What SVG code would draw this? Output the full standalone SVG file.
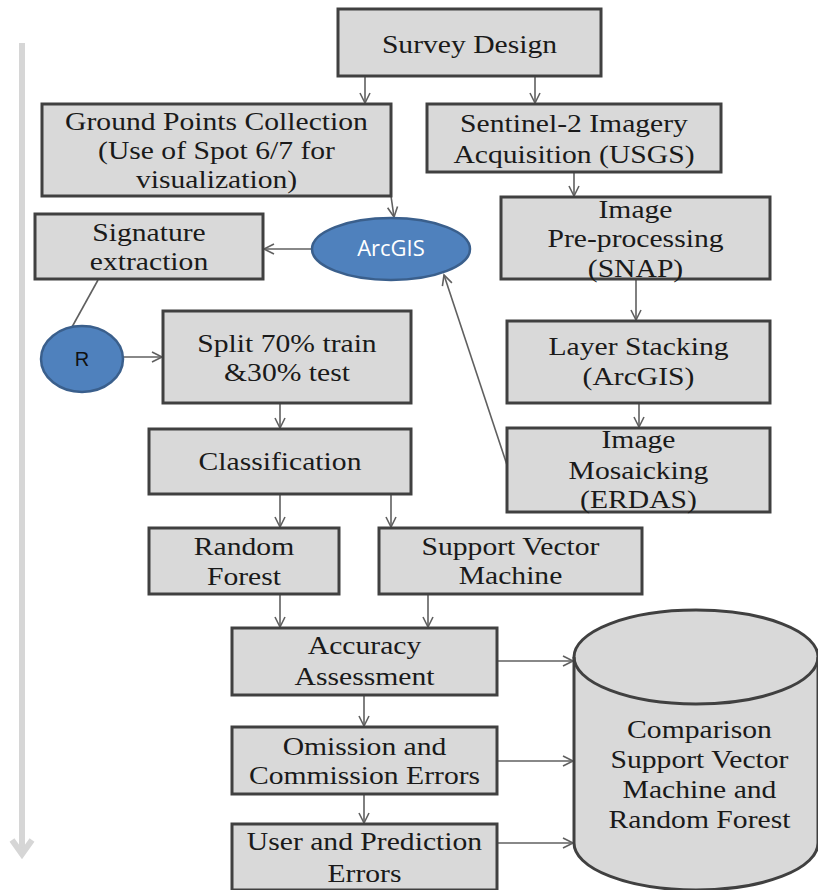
<svg xmlns="http://www.w3.org/2000/svg" width="818" height="890" viewBox="0 0 818 890">
<style>
.box{fill:#d9d9d9;stroke:#404040;stroke-width:3}
.t{font-family:"Liberation Serif","Times New Roman",serif;font-size:26px;fill:#1a1a1a;text-anchor:middle}
.c{fill:none;stroke:#606060;stroke-width:1.6}
.blue{fill:#4f81bd;stroke:#3a5f8c;stroke-width:2.5}
</style>
<defs>
<marker id="ah" markerWidth="14" markerHeight="14" refX="11" refY="6" orient="auto" markerUnits="userSpaceOnUse">
<path d="M1,1 L11,6 L1,11" fill="none" stroke="#606060" stroke-width="1.6"/>
</marker>
</defs>
<rect width="818" height="890" fill="#ffffff"/>
<g id="timeline">
<line x1="22" y1="43" x2="22" y2="854" stroke="#d6d6d6" stroke-width="6"/>
<polyline points="12,840 22,854 32,840" fill="none" stroke="#d6d6d6" stroke-width="6"/>
</g>
<g id="connectors">
<line class="c" x1="365" y1="76" x2="365" y2="103" marker-end="url(#ah)"/>
<line class="c" x1="535" y1="76" x2="535" y2="103" marker-end="url(#ah)"/>
<line class="c" x1="574" y1="172" x2="574" y2="196" marker-end="url(#ah)"/>
<line class="c" x1="636" y1="279" x2="636" y2="320" marker-end="url(#ah)"/>
<line class="c" x1="639" y1="403" x2="639" y2="427" marker-end="url(#ah)"/>
<line class="c" x1="391" y1="196" x2="394" y2="217" marker-end="url(#ah)"/>
<line class="c" x1="312" y1="249" x2="264" y2="249" marker-end="url(#ah)"/>
<line class="c" x1="98" y1="280" x2="72" y2="327"/>
<line class="c" x1="507" y1="465" x2="444" y2="275" marker-end="url(#ah)"/>
<line class="c" x1="123" y1="357" x2="162" y2="357" marker-end="url(#ah)"/>
<line class="c" x1="280" y1="403" x2="280" y2="428" marker-end="url(#ah)"/>
<line class="c" x1="280" y1="494" x2="280" y2="527" marker-end="url(#ah)"/>
<line class="c" x1="391" y1="494" x2="391" y2="527" marker-end="url(#ah)"/>
<line class="c" x1="280" y1="594" x2="280" y2="627" marker-end="url(#ah)"/>
<line class="c" x1="428" y1="594" x2="428" y2="627" marker-end="url(#ah)"/>
<line class="c" x1="364" y1="695" x2="364" y2="726" marker-end="url(#ah)"/>
<line class="c" x1="364" y1="794" x2="364" y2="823" marker-end="url(#ah)"/>
<line class="c" x1="497" y1="661" x2="573" y2="661" marker-end="url(#ah)"/>
<line class="c" x1="497" y1="761" x2="573" y2="761" marker-end="url(#ah)"/>
<line class="c" x1="497" y1="843" x2="573" y2="843" marker-end="url(#ah)"/>
</g>
<g id="survey-design">
<rect class="box" x="338" y="9" width="263" height="67"/>
<text class="t" transform="translate(469.5,53) scale(1.14,1)">Survey Design</text>
</g>
<g id="ground-points">
<rect class="box" x="42" y="104" width="349" height="92"/>
<text class="t" transform="translate(216.5,130) scale(1.14,1)"><tspan x="0" y="0">Ground Points Collection</tspan><tspan x="0" y="29.5">(Use of Spot 6/7 for</tspan><tspan x="0" y="58.5">visualization)</tspan></text>
</g>
<g id="sentinel">
<rect class="box" x="427" y="104" width="294" height="68"/>
<text class="t" transform="translate(574,132) scale(1.14,1)"><tspan x="0" y="0">Sentinel-2 Imagery</tspan><tspan x="0" y="31">Acquisition (USGS)</tspan></text>
</g>
<g id="preprocessing">
<rect class="box" x="501" y="197" width="269" height="82"/>
<text class="t" transform="translate(635.5,218) scale(1.14,1)"><tspan x="0" y="0">Image</tspan><tspan x="0" y="29.5">Pre-processing</tspan><tspan x="0" y="59">(SNAP)</tspan></text>
</g>
<g id="signature">
<rect class="box" x="35" y="214" width="228" height="65"/>
<text class="t" transform="translate(149,241) scale(1.14,1)"><tspan x="0" y="0">Signature</tspan><tspan x="0" y="29">extraction</tspan></text>
</g>
<g id="arcgis">
<ellipse class="blue" cx="391" cy="249" rx="79" ry="31"/>
<text x="391" y="256" font-family="'Open Sans','Liberation Sans',sans-serif" font-size="22" fill="#ffffff" text-anchor="middle">ArcGIS</text>
</g>
<g id="r">
<ellipse class="blue" cx="82" cy="359" rx="41" ry="33"/>
<text x="82" y="366" font-family="'Liberation Sans',Arial,sans-serif" font-size="20" fill="#111111" text-anchor="middle">R</text>
</g>
<g id="split">
<rect class="box" x="163" y="311" width="248" height="92"/>
<text class="t" transform="translate(287,352) scale(1.14,1)"><tspan x="0" y="0">Split 70% train</tspan><tspan x="0" y="29">&amp;30% test</tspan></text>
</g>
<g id="layer-stacking">
<rect class="box" x="507" y="321" width="263" height="82"/>
<text class="t" transform="translate(638.5,355) scale(1.14,1)"><tspan x="0" y="0">Layer Stacking</tspan><tspan x="0" y="30">(ArcGIS)</tspan></text>
</g>
<g id="classification">
<rect class="box" x="149" y="429" width="262" height="65"/>
<text class="t" transform="translate(280,470) scale(1.14,1)">Classification</text>
</g>
<g id="mosaicking">
<rect class="box" x="507" y="428" width="263" height="84"/>
<text class="t" transform="translate(638.5,448) scale(1.14,1)"><tspan x="0" y="0">Image</tspan><tspan x="0" y="31">Mosaicking</tspan><tspan x="0" y="60">(ERDAS)</tspan></text>
</g>
<g id="random-forest">
<rect class="box" x="149" y="528" width="190" height="66"/>
<text class="t" transform="translate(244,555) scale(1.14,1)"><tspan x="0" y="0">Random</tspan><tspan x="0" y="30">Forest</tspan></text>
</g>
<g id="svm">
<rect class="box" x="379" y="528" width="263" height="66"/>
<text class="t" transform="translate(510.5,555) scale(1.14,1)"><tspan x="0" y="0">Support Vector</tspan><tspan x="0" y="29">Machine</tspan></text>
</g>
<g id="accuracy">
<rect class="box" x="232" y="628" width="265" height="67"/>
<text class="t" transform="translate(364.5,654) scale(1.14,1)"><tspan x="0" y="0">Accuracy</tspan><tspan x="0" y="31">Assessment</tspan></text>
</g>
<g id="omission">
<rect class="box" x="232" y="727" width="265" height="67"/>
<text class="t" transform="translate(364.5,755) scale(1.14,1)"><tspan x="0" y="0">Omission and</tspan><tspan x="0" y="29">Commission Errors</tspan></text>
</g>
<g id="user-prediction">
<rect class="box" x="232" y="824" width="265" height="66"/>
<text class="t" transform="translate(364.5,850) scale(1.14,1)"><tspan x="0" y="0">User and Prediction</tspan><tspan x="0" y="32">Errors</tspan></text>
</g>
<g id="comparison">
<path class="box" d="M574,657 A122,47 0 0 1 818,657 L818,843 A122,47 0 0 1 574,843 Z"/>
<path d="M574,657 A122,47 0 0 0 818,657" fill="none" stroke="#404040" stroke-width="3"/>
<text class="t" transform="translate(699.5,738) scale(1.14,1)"><tspan x="0" y="0">Comparison</tspan><tspan x="0" y="30">Support Vector</tspan><tspan x="0" y="60">Machine and</tspan><tspan x="0" y="90">Random Forest</tspan></text>
</g>
</svg>
